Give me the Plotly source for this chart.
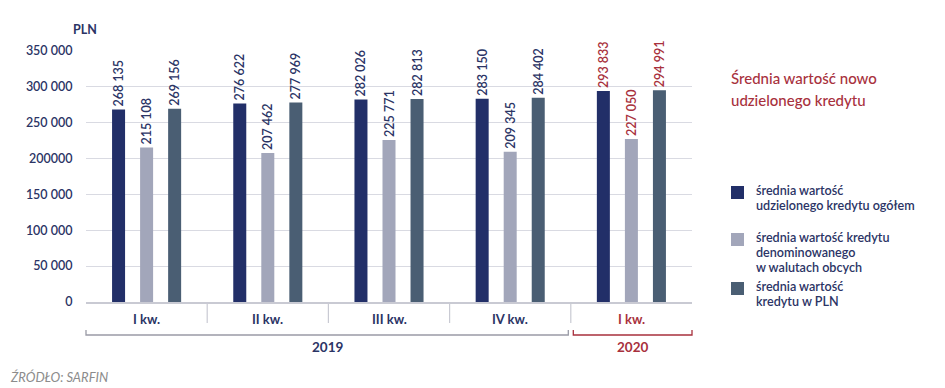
import plotly.graph_objects as go

quarters = ["I kw.", "II kw.", "III kw.", "IV kw.", "I kw."]
years = ["2019", "2019", "2019", "2019", "2020"]
x_keys = [f"{q} {y}" for q, y in zip(quarters, years)]

series_names = [
    ["średnia wartość", "udzielonego kredytu ogółem"],
    ["średnia wartość kredytu", "denominowanego", "w walutach obcych"],
    ["średnia wartość", "kredytu w PLN"],
]
ogolem = [268135, 276622, 282026, 283150, 293833]
walutowe = [215108, 207462, 225771, 209345, 227050]
pln = [269156, 277969, 282813, 284402, 294991]
series_values = [ogolem, walutowe, pln]

ytick_vals = [0, 50000, 100000, 150000, 200000, 250000, 300000, 350000]
ytick_text = ["0", "50 000", "100 000", "150 000", "200000", "250 000", "300 000", "350 000"]

title_lines = ["Średnia wartość nowo", "udzielonego kredytu"]
source_text = "ŹRÓDŁO: SARFIN"
y_unit = "PLN"

colors = ["#222f68", "#a2a6ba", "#4a5e73"]
navy = "#2b3465"
red = "#a8313d"
FONT = "Lato"

W, H = 945, 388
L, R, T, B = 86, 253, 50, 86
PW, PH = W - L - R, H - T - B


def px(xp):
    return (xp - L) / PW


def py(yp):
    return (H - B - yp) / PH


fig = go.Figure()
for name, vals, col in zip(series_names, series_values, colors):
    fig.add_trace(go.Bar(
        x=x_keys, y=vals, name=" ".join(name), marker=dict(color=col, line=dict(width=0)),
        text=[f"{v:,}".replace(",", " ") for v in vals],
        textposition="outside", textangle=-90, constraintext="none",
        cliponaxis=False,
        textfont=dict(family=FONT, size=12.5, weight=600,
                      color=[red if y == "2020" else navy for y in years]),
        showlegend=False,
    ))

fig.update_layout(
    width=W, height=H, autosize=False,
    margin=dict(l=L, r=R, t=T, b=B),
    paper_bgcolor="white", plot_bgcolor="white",
    barmode="group", bargap=0.306, bargroupgap=0.536,
    font=dict(family=FONT, color=navy),
    xaxis=dict(showticklabels=False, showgrid=False, zeroline=False,
               showline=True, linecolor="#c9cad3", linewidth=1.5,
               range=[-0.5, len(x_keys) - 0.5], fixedrange=True),
    yaxis=dict(range=[0, 351000], tickvals=ytick_vals, ticktext=ytick_text,
               showgrid=True, gridcolor="#d9dae2", gridwidth=1,
               zeroline=False, showline=False,
               ticks="outside", ticklen=10, tickcolor="rgba(0,0,0,0)",
               tickfont=dict(family=FONT, size=12.5, weight=600, color=navy)),
)

ann = []
shapes = []
n = len(x_keys)

# unit label
ann.append(dict(text=f"<b>{y_unit}</b>", x=px(85), y=py(29), xref="paper", yref="paper",
                showarrow=False, xanchor="center", yanchor="middle",
                font=dict(family=FONT, size=12.5, color=navy)))

# quarter labels + separators
for i, (q, y) in enumerate(zip(quarters, years)):
    ann.append(dict(text=f"<b>{q}</b>", x=(i + 0.5) / n, y=py(319), xref="paper", yref="paper",
                    showarrow=False, xanchor="center", yanchor="middle",
                    font=dict(family=FONT, size=13, color=red if y == "2020" else navy)))
for k in range(1, n):
    shapes.append(dict(type="line", xref="paper", yref="paper", x0=k / n, x1=k / n,
                       y0=0, y1=py(323), line=dict(color="#c9cad3", width=1.2)))

# year brackets
groups = []
for i, y in enumerate(years):
    if groups and groups[-1][0] == y:
        groups[-1][2] = i
    else:
        groups.append([y, i, i])
gap = 2.5 / PW
for y, a, b in groups:
    x0 = a / n + (gap if a > 0 else 0)
    x1 = (b + 1) / n - (gap if b < n - 1 else 0)
    col = red if y == "2020" else "#9a9ba6"
    yb, yt = py(335), py(330)
    shapes.append(dict(type="path", xref="paper", yref="paper",
                       path=f"M {x0} {yt} L {x0} {yb} L {x1} {yb} L {x1} {yt}",
                       line=dict(color=col, width=1.3)))
    ann.append(dict(text=f"<b>{y}</b>", x=(x0 + x1) / 2, y=py(347), xref="paper", yref="paper",
                    showarrow=False, xanchor="center", yanchor="middle",
                    font=dict(family=FONT, size=13.5, color=red if y == "2020" else navy)))

# source
ann.append(dict(text=f"<i>{source_text}</i>", x=px(8), y=py(377), xref="paper", yref="paper",
                showarrow=False, xanchor="left", yanchor="middle",
                font=dict(family=FONT, size=13, color="#8c8c8c")))

# legend title
for j, line in enumerate(title_lines):
    ann.append(dict(text=line, x=px(729), y=py(78 + 22 * j), xref="paper", yref="paper",
                    showarrow=False, xanchor="left", yanchor="middle",
                    font=dict(family=FONT, size=15, weight=500, color=red)))

# legend items
item_tops = [186, 233, 282]
line_step = 15.2
for lines, col, top in zip(series_names, colors, item_tops):
    shapes.append(dict(type="rect", xref="paper", yref="paper",
                       x0=px(731), x1=px(744), y0=py(top), y1=py(top + 13),
                       fillcolor=col, line=dict(width=0)))
    for j, line in enumerate(lines):
        ann.append(dict(text=line, x=px(754), y=py(top + 4 + line_step * j), xref="paper", yref="paper",
                        showarrow=False, xanchor="left", yanchor="middle", align="left",
                        font=dict(family=FONT, size=12.6, weight=600, color=navy)))

fig.update_layout(annotations=ann, shapes=shapes)
fig.write_html("out.html", config={"displayModeBar": False},
               post_script="document.body.style.margin='0';document.body.style.padding='0';")
